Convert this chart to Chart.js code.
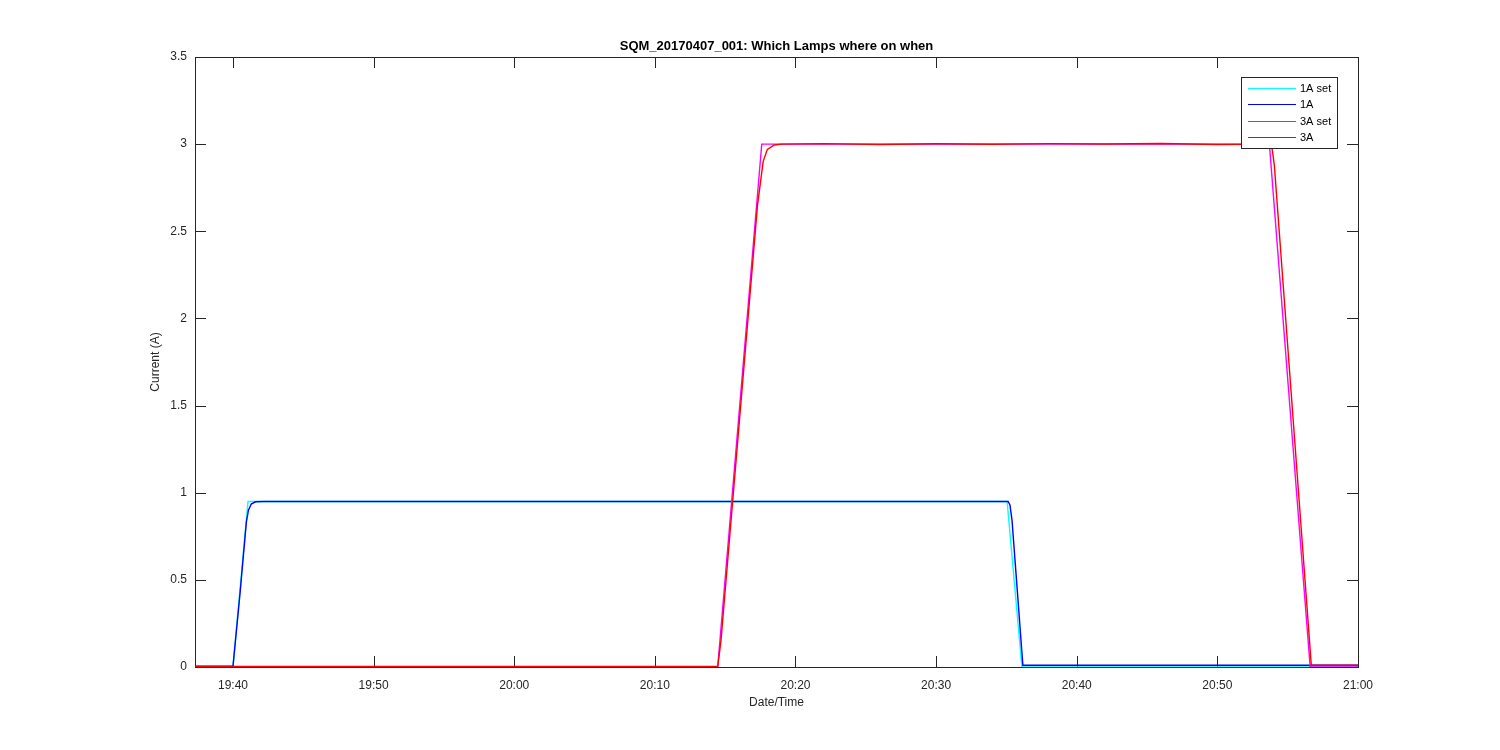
<!DOCTYPE html>
<html lang="en">
<head>
    <meta charset="UTF-8">
    <title>SQM_20170407_001: Which Lamps where on when</title>
    <script src="https://cdn.jsdelivr.net/npm/chart.js"></script>
    <style>
        html, body { margin: 0; padding: 0; background: #ffffff; }
        #wrap { width: 1500px; height: 750px; }
    </style>
</head>
<body>
    <div id="wrap"><canvas id="lampChart" width="1500" height="750"></canvas></div>

    <script>
        // time is minutes since midnight (19:40 = 1180)
        const xMin = 1177.3;
        const xMax = 1260;
        const xTicks = [1180, 1190, 1200, 1210, 1220, 1230, 1240, 1250, 1260];
        const yTicks = [0, 0.5, 1, 1.5, 2, 2.5, 3, 3.5];

        const seriesNames = ['1A set', '1A', '3A set', '3A'];
        const seriesColors = ['#00ffff', '#0000ff', '#ff00ff', '#ff0000'];

        // 1A set
        const t1Aset = [1177.3, 1180.0, 1181.07, 1235.05, 1236.1, 1260];
        const v1Aset = [0, 0, 0.95, 0.95, 0, 0];

        // 1A measured
        const t1A = [1177.3, 1180.0, 1180.5, 1180.95, 1181.1, 1181.3, 1181.6, 1182.2, 1235.12, 1235.25, 1235.4, 1236.17, 1260];
        const v1A = [0.004, 0.004, 0.42, 0.83, 0.9, 0.935, 0.948, 0.95, 0.95, 0.93, 0.84, 0.01, 0.01];

        // 3A set
        const t3Aset = [1177.3, 1214.47, 1217.6, 1253.7, 1256.6, 1260];
        const v3Aset = [0, 0, 3.0, 3.0, 0, 0];

        // 3A measured
        const t3A = [1177.3, 1214.47, 1214.7, 1216.0, 1217.3, 1217.7, 1218.0, 1218.5, 1219.0, 1222.0, 1226.0, 1230.0,
                     1234.0, 1238.0, 1242.0, 1246.0, 1250.0, 1253.75, 1253.9, 1254.05, 1256.68, 1260];
        const v3A = [0.003, 0.003, 0.15, 1.40, 2.65, 2.9, 2.97, 2.995, 3.0, 3.003, 2.998, 3.002,
                     2.999, 3.003, 3.001, 3.004, 2.998, 3.0, 2.97, 2.88, 0.01, 0.01];

        const seriesTimes = [t1Aset, t1A, t3Aset, t3A];
        const seriesValues = [v1Aset, v1A, v3Aset, v3A];

        const FONT = '"Liberation Sans", Arial, Helvetica, sans-serif';
        const AXIS_COLOR = '#262626';
        const TICK_LEN = 11;

        function fmtTime(m) {
            const h = Math.floor(m / 60);
            const mm = Math.round(m - h * 60);
            return String(h).padStart(2, '0') + ':' + String(mm).padStart(2, '0');
        }

        // axes box and inward ticks on all four sides, like MATLAB
        const boxPlugin = {
            id: 'box',
            beforeDatasetsDraw(chart) {
                const ctx = chart.ctx;
                const a = chart.chartArea;
                const xs = chart.scales.x;
                const ys = chart.scales.y;
                ctx.save();
                ctx.strokeStyle = AXIS_COLOR;
                ctx.lineWidth = 1;
                ctx.strokeRect(Math.round(a.left) + 0.5, Math.round(a.top) + 0.5,
                    Math.round(a.right - a.left), Math.round(a.bottom - a.top));
                ctx.beginPath();
                xTicks.forEach(v => {
                    const px = Math.round(xs.getPixelForValue(v)) + 0.5;
                    ctx.moveTo(px, a.bottom);
                    ctx.lineTo(px, a.bottom - TICK_LEN);
                    ctx.moveTo(px, a.top);
                    ctx.lineTo(px, a.top + TICK_LEN);
                });
                yTicks.forEach(v => {
                    const py = Math.round(ys.getPixelForValue(v)) + 0.5;
                    ctx.moveTo(a.left, py);
                    ctx.lineTo(a.left + TICK_LEN, py);
                    ctx.moveTo(a.right, py);
                    ctx.lineTo(a.right - TICK_LEN, py);
                });
                ctx.stroke();
                ctx.restore();
            }
        };

        // legend box drawn over the lines
        const legendPlugin = {
            id: 'matlabLegend',
            afterDraw(chart) {
                const ctx = chart.ctx;
                const x0 = 1241.5, y0 = 77.5, w = 96, h = 71;
                const rows = [88.5, 104.5, 121.5, 137.5];
                ctx.save();
                ctx.fillStyle = '#ffffff';
                ctx.fillRect(x0, y0, w, h);
                ctx.strokeStyle = AXIS_COLOR;
                ctx.lineWidth = 1;
                ctx.strokeRect(x0, y0, w, h);
                ctx.font = '11px ' + FONT;
                ctx.textBaseline = 'middle';
                ctx.textAlign = 'left';
                chart.data.datasets.forEach((ds, i) => {
                    ctx.strokeStyle = ds.borderColor;
                    ctx.beginPath();
                    ctx.moveTo(1248, rows[i]);
                    ctx.lineTo(1296, rows[i]);
                    ctx.stroke();
                    ctx.fillStyle = '#000000';
                    ctx.fillText(ds.label, 1300, rows[i]);
                });
                ctx.restore();
            }
        };

        const datasets = seriesNames.map((name, i) => ({
            label: name,
            data: seriesTimes[i].map((t, k) => ({ x: t, y: seriesValues[i][k] })),
            borderColor: seriesColors[i],
            backgroundColor: seriesColors[i],
            borderWidth: 1.4,
            pointRadius: 0,
            fill: false,
            tension: 0,
            order: seriesNames.length - i
        }));

        new Chart(document.getElementById('lampChart'), {
            type: 'line',
            data: { datasets: datasets },
            options: {
                responsive: false,
                animation: false,
                layout: { padding: { left: 0, right: 142, top: 0, bottom: 0 } },
                plugins: {
                    legend: { display: false },
                    tooltip: { enabled: false },
                    title: {
                        display: true,
                        text: 'SQM_20170407_001: Which Lamps where on when',
                        fullSize: false,
                        color: '#000000',
                        font: { family: FONT, size: 13, weight: 'bold', lineHeight: 1.2 },
                        padding: { top: 39, bottom: 2.4 }
                    }
                },
                scales: {
                    x: {
                        type: 'linear',
                        min: xMin,
                        max: xMax,
                        afterBuildTicks(scale) {
                            scale.ticks = xTicks.map(v => ({ value: v }));
                        },
                        afterFit(scale) { scale.height = 750 - 667; },
                        grid: { display: false, drawTicks: false },
                        border: { display: false },
                        ticks: {
                            color: AXIS_COLOR,
                            font: { family: FONT, size: 12 },
                            padding: 11,
                            maxRotation: 0,
                            autoSkip: false,
                            callback: v => fmtTime(v)
                        },
                        title: {
                            display: true,
                            text: 'Date/Time',
                            color: AXIS_COLOR,
                            font: { family: FONT, size: 12, lineHeight: 1.2 },
                            padding: { top: 40, bottom: 40 }
                        }
                    },
                    y: {
                        type: 'linear',
                        min: 0,
                        max: 3.5,
                        afterBuildTicks(scale) {
                            scale.ticks = yTicks.map(v => ({ value: v }));
                        },
                        afterFit(scale) { scale.width = 195; },
                        grid: { display: false, drawTicks: false },
                        border: { display: false },
                        ticks: {
                            color: AXIS_COLOR,
                            font: { family: FONT, size: 12 },
                            padding: 8,
                            autoSkip: false,
                            callback: v => String(v)
                        },
                        title: {
                            display: true,
                            text: 'Current (A)',
                            color: AXIS_COLOR,
                            font: { family: FONT, size: 12, lineHeight: 1.2 },
                            padding: { top: 148, bottom: 0 }
                        }
                    }
                }
            },
            plugins: [boxPlugin, legendPlugin]
        });
    </script>
</body>
</html>
